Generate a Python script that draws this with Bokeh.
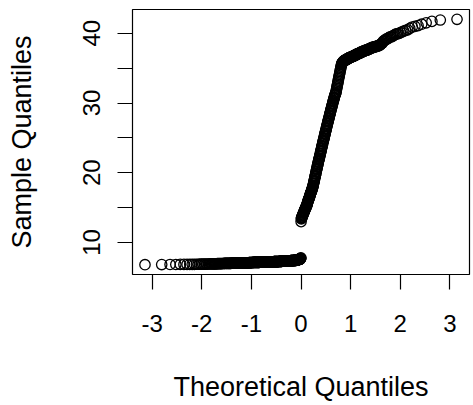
from statistics import NormalDist
import numpy as np
from bokeh.plotting import figure
from bokeh.models import Range1d, FixedTicker
from bokeh.embed import file_html
from bokeh.resources import INLINE

# ---- data (sorted sample values) ----
# lower cluster as a frequency table (value, count)
lower_values = [6.82, 6.84, 6.85, 6.86, 6.87,
                6.88, 6.89, 6.90, 6.91, 6.92, 6.93, 6.94, 6.95, 6.96, 6.97, 6.98,
                6.99, 7.00, 7.01, 7.02, 7.03, 7.04, 7.05, 7.06, 7.07, 7.08, 7.09, 7.10, 7.11, 7.12, 7.13,
                7.14, 7.15, 7.16, 7.17, 7.18, 7.19, 7.20,
                7.21, 7.22, 7.23, 7.24, 7.25, 7.26, 7.27, 7.28,
                7.29, 7.30, 7.31, 7.32, 7.33, 7.34, 7.35, 7.36, 7.37, 7.38,
                7.39, 7.40, 7.41, 7.42, 7.43, 7.44, 7.45, 7.46,
                7.48, 7.50, 7.52, 7.54, 7.56, 7.58, 7.60,
                7.62, 7.65, 7.69, 7.74, 7.80]
lower_counts = [1, 1, 2, 3, 3,
                2, 2, 2, 2, 2, 3, 2, 2, 2, 2, 2,
                3, 3, 4, 5, 5, 5, 5, 5, 5, 5, 5, 5, 4, 4, 4,
                7, 7, 7, 7, 7, 7, 8,
                6, 6, 6, 7, 6, 6, 6, 7,
                5, 5, 5, 5, 5, 5, 5, 5, 5, 5,
                4, 4, 4, 4, 4, 4, 3, 3,
                2, 2, 2, 2, 2, 2, 3,
                1, 1, 1, 1, 1]

upper_values = [
    13.0, 13.4,
    13.5, 13.6, 13.6, 13.7, 13.8, 13.9, 13.9, 14.0, 14.1, 14.2, 14.2, 14.3, 14.4,
    14.5, 14.5, 14.6, 14.7, 14.8, 14.8, 14.9, 15.0, 15.0, 15.1, 15.2, 15.2, 15.3,
    15.4, 15.5, 15.6, 15.7, 15.8, 15.9, 16.0, 16.1, 16.2, 16.3, 16.3, 16.4, 16.5,
    16.6, 16.7, 16.8, 16.9, 17.0, 17.1, 17.2, 17.2, 17.3, 17.4, 17.5, 17.6, 17.7,
    17.8, 17.9, 18.0, 18.1,
    18.2, 18.4, 18.5, 18.7, 18.8, 18.9, 19.1, 19.2, 19.4, 19.5, 19.6, 19.8, 19.9,
    20.1, 20.2, 20.4, 20.5, 20.6, 20.8, 20.9, 21.1, 21.2, 21.3, 21.5, 21.6, 21.8,
    21.9, 22.0,
    22.1, 22.3, 22.4, 22.5, 22.7, 22.8, 23.0, 23.1, 23.2, 23.4,
    23.5, 23.7, 23.8, 23.9, 24.1, 24.2, 24.4, 24.5, 24.6, 24.8,
    24.9, 25.0, 25.2, 25.3, 25.5, 25.6, 25.7, 25.9, 26.0, 26.1,
    26.3, 26.4, 26.6, 26.7, 26.8, 27.0, 27.1, 27.3, 27.4, 27.5,
    27.7, 27.8, 27.9, 28.1, 28.2, 28.4, 28.5, 28.6, 28.8, 28.9,
    29.1, 29.2, 29.3, 29.5, 29.6, 29.7, 29.9, 30.0, 30.2, 30.3,
    30.4, 30.6, 30.7, 30.8, 31.0, 31.1, 31.2, 31.3, 31.4, 31.5,
    31.7, 31.9, 32.1, 32.3, 32.5, 32.7, 32.9, 33.1, 33.3, 33.5, 33.7, 33.9,
    34.1, 34.3, 34.5, 34.7, 34.9, 35.1, 35.3, 35.5, 35.6,
    35.7, 35.8, 35.8, 35.9, 35.9, 36.0, 36.0,
    36.0, 36.1, 36.1, 36.1, 36.2, 36.2, 36.2, 36.2, 36.3, 36.3, 36.3, 36.3,
    36.4, 36.4, 36.4, 36.4, 36.5, 36.5, 36.5, 36.5, 36.6, 36.6, 36.6, 36.6, 36.6,
    36.7, 36.7, 36.7, 36.7,
    36.8, 36.8, 36.8, 36.8, 36.9, 36.9, 36.9, 36.9, 37.0, 37.0, 37.0,
    37.1, 37.1, 37.1, 37.1, 37.2, 37.2, 37.2, 37.3, 37.3, 37.3, 37.3,
    37.4, 37.4, 37.4, 37.4, 37.5, 37.5, 37.5, 37.6, 37.6, 37.6, 37.6,
    37.7, 37.7, 37.7, 37.8, 37.8, 37.8,
    37.9, 37.9, 37.9, 38.0, 38.0, 38.0, 38.0, 38.1, 38.1, 38.1, 38.2, 38.2, 38.2,
    38.3, 38.3,
    38.4, 38.5, 38.6, 38.8, 38.9,
    39.0, 39.1, 39.2, 39.2, 39.3, 39.4, 39.5, 39.5, 39.6, 39.7,
    39.8, 39.9, 39.9, 40.0, 40.1, 40.2, 40.3,
    40.4, 40.5, 40.7, 40.9, 41.0, 41.1, 41.3, 41.5, 41.7, 41.9, 42.0]

x_ticks = [-3, -2, -1, 0, 1, 2, 3]
x_tick_labels = ["-3", "-2", "-1", "0", "1", "2", "3"]
y_ticks = [10, 20, 30, 40]
y_tick_labels = ["10", "20", "30", "40"]
y_minor_ticks = [15, 25, 35]
x_title = "Theoretical Quantiles"
y_title = "Sample Quantiles"

# ---- qqnorm-style computation ----
sample = np.sort(np.concatenate([np.repeat(lower_values, lower_counts), upper_values]))
n = len(sample)
nd = NormalDist()
a = 3 / 8 if n <= 10 else 0.5
theo = np.array([nd.inv_cdf((i + 1 - a) / (n + 1 - 2 * a)) for i in range(n)])

def ext(lo, hi, f=0.04):
    d = (hi - lo) * f
    return lo - d, hi + d

xlo, xhi = ext(theo.min(), theo.max())
ylo, yhi = ext(sample.min(), sample.max())

FONT = "Liberation Sans"

p = figure(width=472, height=404, output_backend="svg", toolbar_location=None,
           x_range=Range1d(xlo, xhi), y_range=Range1d(ylo, yhi),
           min_border_left=132, min_border_right=3, min_border_top=9, min_border_bottom=129)
p.background_fill_color = "white"
p.border_fill_color = "white"
p.outline_line_color = "black"
p.outline_line_width = 1.2
p.grid.visible = False

p.scatter(theo, sample, marker="circle", size=10.4, fill_color=None,
          line_color="black", line_width=1.3)

xa = p.xaxis[0]
xa.ticker = FixedTicker(ticks=x_ticks)
xa.major_label_overrides = dict(zip(x_ticks, x_tick_labels))
ya = p.yaxis[0]
ya.ticker = FixedTicker(ticks=y_ticks, minor_ticks=y_minor_ticks)
ya.major_label_overrides = dict(zip(y_ticks, y_tick_labels))

for ax in (xa, ya):
    ax.axis_line_color = None
    ax.major_tick_out = 15
    ax.major_tick_in = 0
    ax.major_tick_line_color = "black"
    ax.major_tick_line_width = 1.2
    ax.minor_tick_out = 0
    ax.minor_tick_in = 0
    ax.major_label_text_font = FONT
    ax.major_label_text_font_size = "24px"
    ax.major_label_text_color = "black"
    ax.axis_label_text_font = FONT
    ax.axis_label_text_font_size = "27px"
    ax.axis_label_text_font_style = "normal"
    ax.axis_label_text_color = "black"

ya.minor_tick_out = 15
ya.minor_tick_line_color = "black"
ya.minor_tick_line_width = 1.2
xa.minor_tick_line_color = None

xa.axis_label = x_title
ya.axis_label = y_title
xa.major_label_standoff = 25
xa.axis_label_standoff = 37
ya.major_label_orientation = "vertical"
ya.major_label_standoff = 17
ya.axis_label_standoff = 44

open("out.html", "w").write(file_html(p, INLINE))
